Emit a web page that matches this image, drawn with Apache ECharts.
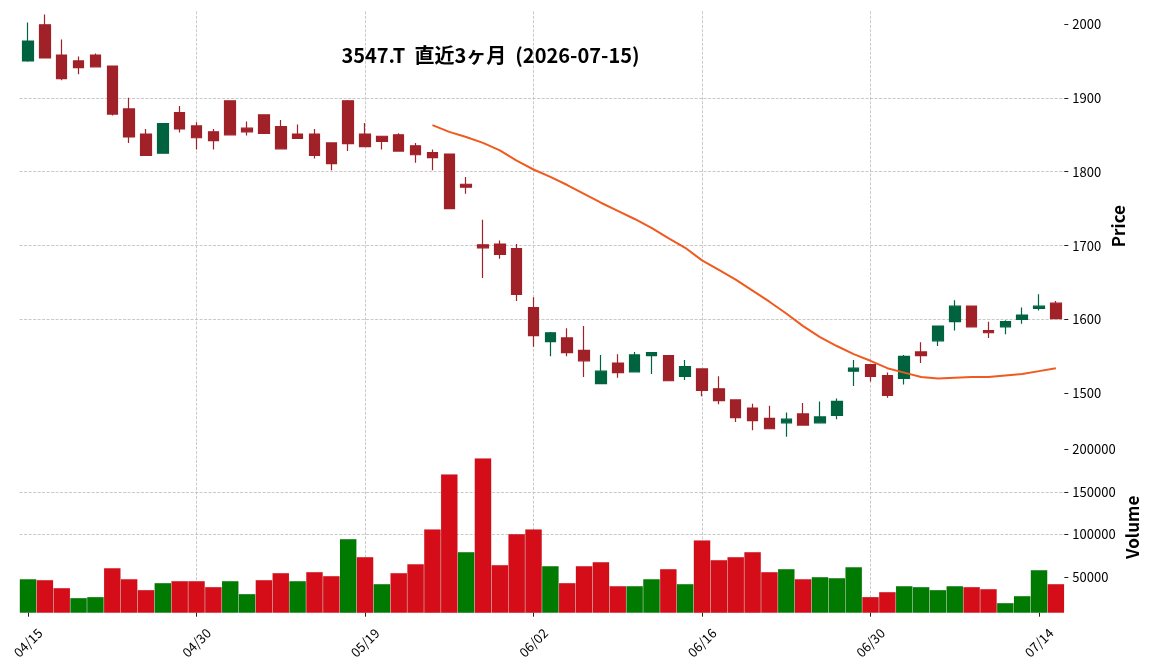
<!DOCTYPE html>
<html>
<head>
    <meta charset="utf-8">
    <script src="https://cdn.jsdelivr.net/npm/echarts@6.0.0/dist/echarts.min.js"></script>
    <style>
        body { margin: 0; background: #fff; }
    </style>
</head>
<body>
    <div id="main" style="width: 1152px;height:670px;"></div>
    <script type="text/javascript">
        // 日付 (2026年, 営業日)
        var dates = ['04/15','04/16','04/17','04/20','04/21','04/22','04/23','04/24','04/27','04/28',
                     '04/30','05/01','05/07','05/08','05/11','05/12','05/13','05/14','05/15','05/18',
                     '05/19','05/20','05/21','05/22','05/25','05/26','05/27','05/28','05/29','06/01',
                     '06/02','06/03','06/04','06/05','06/08','06/09','06/10','06/11','06/12','06/15',
                     '06/16','06/17','06/18','06/19','06/22','06/23','06/24','06/25','06/26','06/29',
                     '06/30','07/01','07/02','07/03','07/06','07/07','07/08','07/09','07/10','07/13',
                     '07/14','07/15'];
        var opens  = [1950,1999,1958,1950,1958,1943,1885,1851,1825,1880,
                      1862,1854,1896,1859,1877,1861,1851,1851,1839,1896,
                      1851,1848,1850,1835,1826,1824,1783,1701,1702,1696,
                      1616,1570,1575,1558,1513,1541,1529,1551,1551,1523,
                      1533,1506,1491,1480,1466,1460,1472,1460,1470,1530,
                      1539,1524,1520,1556,1571,1597,1618,1585,1590,1600,
                      1615,1622];
        var highs  = [2002,2013,1979,1956,1960,1943,1900,1858,1865,1889,
                      1867,1858,1896,1868,1877,1870,1864,1858,1839,1897,
                      1866,1848,1852,1839,1830,1824,1793,1735,1707,1702,
                      1630,1583,1588,1591,1552,1553,1556,1555,1552,1545,
                      1533,1523,1491,1486,1483,1474,1487,1489,1493,1545,
                      1539,1528,1552,1569,1591,1626,1618,1597,1599,1616,
                      1634,1625];
        var lows   = [1949,1954,1924,1932,1942,1876,1839,1822,1825,1853,
                      1830,1830,1850,1849,1852,1831,1845,1818,1802,1828,
                      1834,1830,1828,1812,1802,1750,1770,1656,1682,1625,
                      1563,1550,1550,1522,1513,1521,1529,1526,1517,1518,
                      1496,1485,1461,1450,1452,1441,1457,1460,1465,1510,
                      1516,1494,1512,1541,1564,1585,1590,1575,1580,1594,
                      1612,1601];
        var closes = [1977,1954,1926,1941,1942,1878,1847,1822,1865,1858,
                      1846,1842,1850,1854,1852,1831,1845,1822,1811,1838,
                      1834,1841,1828,1823,1819,1750,1779,1697,1688,1634,
                      1578,1582,1555,1544,1530,1528,1552,1555,1517,1536,
                      1504,1490,1467,1463,1452,1465,1457,1468,1489,1534,
                      1523,1497,1550,1551,1591,1618,1590,1582,1597,1606,
                      1618,1601];
        var volumes = [47600,46500,37100,25400,26600,60500,47600,34800,43000,45300,
                       45300,38300,45300,30100,46500,54700,45300,55900,51200,94500,
                       73400,41800,54700,65200,106200,170700,79300,189500,64100,100400,
                       106200,62900,43000,62900,67600,39400,39400,47600,59400,41800,
                       93300,69900,73400,79300,55900,59400,47600,50000,48800,61700,
                       26600,32400,39400,38300,34800,39400,38300,35900,19500,27700,
                       58200,41800];
        // 25日移動平均 (index 24 から)
        var maStart = 24;
        var ma25 = [1863,1854,1847,1839,1829,1815,1803,1793,1782,1770,
                    1758,1747,1736,1724,1710,1697,1680,1667,1654,1639,
                    1624,1608,1591,1576,1564,1553,1544,1534,1528,1522,
                    1520,1521,1522,1522,1524,1526,1530,1534];
        var xTicks = [0, 10, 20, 30, 40, 50, 60];
        var priceTicks = [1500, 1600, 1700, 1800, 1900, 2000];
        var volTicks = [50000, 100000, 150000, 200000];

        var upColor = '#006340', downColor = '#a02128';
        var volUp = '#007a00', volDown = '#d50d18';
        var gridLine = {show: true, showMinLine: false, showMaxLine: false,
                        lineStyle: {color: '#bdbdbd', type: [3, 1.5], width: 0.8}};
        var tickStyle = {color: '#222', width: 1};
        var font = 'Noto Sans CJK JP';

        var candleData = [], volData = [], maData = [];
        for (var i = 0; i < dates.length; i++) {
            candleData.push([i, opens[i], closes[i], lows[i], highs[i]]);
            var prev = i > 0 ? closes[i - 1] : opens[i];
            volData.push({value: [i, volumes[i]],
                          itemStyle: {color: closes[i] >= prev ? volUp : volDown}});
        }
        for (var j = 0; j < ma25.length; j++) {
            maData.push([maStart + j, ma25[j]]);
        }

        function plain(v) { return String(Math.round(v)); }

        var gLeft = 19.6, gWidth = 1044.7;

        var option = {
            animation: false,
            backgroundColor: '#fff',
            textStyle: {fontFamily: font},
            title: {
                text: '3547.T  直近3ヶ月  (2026-07-15)',
                left: 485.5,
                top: 40,
                textAlign: 'center',
                textStyle: {fontFamily: font, fontSize: 20, fontWeight: 'bold', color: '#000'}
            },
            grid: [
                {left: gLeft, width: gWidth, top: 11.3, height: 429.7},
                {left: gLeft, width: gWidth, top: 442, height: 170.7}
            ],
            xAxis: [
                {
                    type: 'value', gridIndex: 0, min: -0.5, max: 61.5,
                    axisLine: {show: false, onZero: false},
                    axisTick: {show: false, customValues: xTicks},
                    axisLabel: {show: false, customValues: xTicks},
                    splitLine: gridLine
                },
                {
                    type: 'value', gridIndex: 1, min: -0.5, max: 61.5,
                    axisLine: {show: false, onZero: false},
                    axisTick: {show: true, customValues: xTicks, length: 4, lineStyle: tickStyle},
                    axisLabel: {
                        customValues: xTicks,
                        formatter: function (v) { return dates[Math.round(v)] || ''; },
                        rotate: 45, align: 'center', verticalAlign: 'middle', margin: 30,
                        fontSize: 13, color: '#000', fontFamily: font
                    },
                    splitLine: gridLine
                }
            ],
            yAxis: [
                {
                    type: 'value', gridIndex: 0, position: 'right',
                    min: 1435.4, max: 2017.2,
                    axisLine: {show: false, onZero: false},
                    axisTick: {show: true, customValues: priceTicks, length: 4, lineStyle: tickStyle},
                    axisLabel: {customValues: priceTicks, formatter: plain, margin: 8, fontSize: 13,
                                color: '#000', fontFamily: font},
                    splitLine: gridLine,
                    name: 'Price', nameLocation: 'middle', nameGap: 46, nameRotate: 90,
                    nameMoveOverlap: false,
                    nameTextStyle: {fontSize: 17, fontWeight: 'bold', color: '#000', fontFamily: font}
                },
                {
                    type: 'value', gridIndex: 1, position: 'right',
                    min: 8067, max: 208575,
                    axisLine: {show: false, onZero: false},
                    axisTick: {show: true, customValues: volTicks, length: 4, lineStyle: tickStyle},
                    axisLabel: {customValues: volTicks, formatter: plain, margin: 8, fontSize: 13,
                                color: '#000', fontFamily: font},
                    splitLine: gridLine,
                    name: 'Volume', nameLocation: 'middle', nameGap: 60, nameRotate: 90,
                    nameMoveOverlap: false,
                    nameTextStyle: {fontSize: 17, fontWeight: 'bold', color: '#000', fontFamily: font}
                }
            ],
            series: [
                {
                    name: 'Volume', type: 'bar',
                    xAxisIndex: 1, yAxisIndex: 1,
                    barWidth: 16.85, clip: true,
                    itemStyle: {borderColor: 'rgba(0,0,0,0.12)', borderWidth: 0.5},
                    data: volData
                },
                {
                    name: 'Price', type: 'candlestick',
                    xAxisIndex: 0, yAxisIndex: 0,
                    barWidth: 11,
                    encode: {x: 0, y: [1, 2, 3, 4]},
                    itemStyle: {
                        color: upColor, color0: downColor,
                        borderColor: upColor, borderColor0: downColor,
                        borderWidth: 1.2
                    },
                    data: candleData
                },
                {
                    name: 'MA25', type: 'line',
                    xAxisIndex: 0, yAxisIndex: 0,
                    showSymbol: false, symbol: 'none',
                    lineStyle: {color: '#f05a1e', width: 2},
                    data: maData
                }
            ]
        };

        var myChart = echarts.init(document.getElementById('main'));
        myChart.setOption(option);
    </script>
</body>
</html>
